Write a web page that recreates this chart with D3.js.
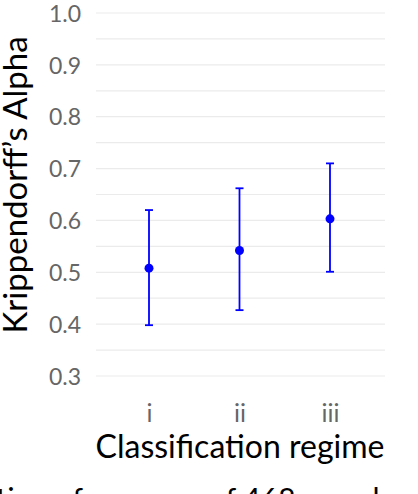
<!DOCTYPE html>
<html><head><meta charset="utf-8">
<script src="https://cdn.jsdelivr.net/npm/d3@7"></script>
<style>body{margin:0;background:#fff;overflow:hidden}text{font-family:"Lato","Open Sans",sans-serif}</style>
</head><body><div id="chart"></div>
<script>
// Agreement per classification regime, with interval bounds
const regimes = ["i", "ii", "iii"];
const alphaMean = [0.508, 0.542, 0.603];
const alphaLow = [0.398, 0.427, 0.501];
const alphaHigh = [0.620, 0.662, 0.710];
const yTicks = [0.3, 0.4, 0.5, 0.6, 0.7, 0.8, 0.9, 1.0];

const width = 418, height = 494;
const margin = { left: 96, right: 33, top: 13, bottom: 0 };

const svg = d3.select("#chart").append("svg")
    .attr("width", width).attr("height", height);

const y = d3.scaleLinear().domain([0.3, 1.0]).range([376, 13]);
const x = d3.scalePoint().domain(regimes).range([149, 330]);

// grid every 0.05
const gridVals = d3.range(0, 15).map(i => +(0.3 + i * 0.05).toFixed(2));
svg.append("g").selectAll("line").data(gridVals).join("line")
    .attr("x1", margin.left).attr("x2", width - margin.right)
    .attr("y1", d => y(d)).attr("y2", d => y(d))
    .attr("stroke", "#ebebeb").attr("stroke-width", 1.2);

const yAxis = svg.append("g").attr("transform", "translate(84,0)")
    .call(d3.axisLeft(y).tickValues(yTicks).tickFormat(d3.format(".1f")).tickSize(0));
yAxis.select(".domain").remove();
yAxis.selectAll("text").attr("fill", "#666").style("font-size", "23px").attr("dy", "0.36em");

const xAxis = svg.append("g").attr("transform", "translate(0,400)")
    .call(d3.axisBottom(x).tickSize(0));
xAxis.select(".domain").remove();
xAxis.selectAll("text").attr("fill", "#666").style("font-size", "25px").attr("dy", "0.75em");

svg.append("text").attr("x", 240).attr("y", 458).attr("text-anchor", "middle")
    .style("font-size", "32px").attr("fill", "#000").text("Classification regime");
svg.append("text").attr("transform", "translate(27,185) rotate(-90)")
    .attr("text-anchor", "middle").style("font-size", "33px").attr("fill", "#000")
    .text("Krippendorff’s Alpha");

// error bars
const g = svg.append("g");
regimes.forEach((r, i) => {
    const cx = x(r);
    g.append("line").attr("x1", cx).attr("x2", cx)
        .attr("y1", y(alphaLow[i])).attr("y2", y(alphaHigh[i]))
        .attr("stroke", "#0000ff").attr("stroke-width", 1.8);
    [alphaLow[i], alphaHigh[i]].forEach(v => {
        g.append("line").attr("x1", cx - 4).attr("x2", cx + 4)
            .attr("y1", y(v)).attr("y2", y(v))
            .attr("stroke", "#0000ff").attr("stroke-width", 1.8);
    });
    g.append("circle").attr("cx", cx).attr("cy", y(alphaMean[i])).attr("r", 4.5)
        .attr("fill", "#0000ff");
});

// caption line, clipped by the bottom edge as in the reference
svg.append("text").attr("x", -4).attr("y", 510).style("font-size", "30px")
    .attr("fill", "#000").text("tion of a corpus of 468 samples using 0");
</script></body></html>
